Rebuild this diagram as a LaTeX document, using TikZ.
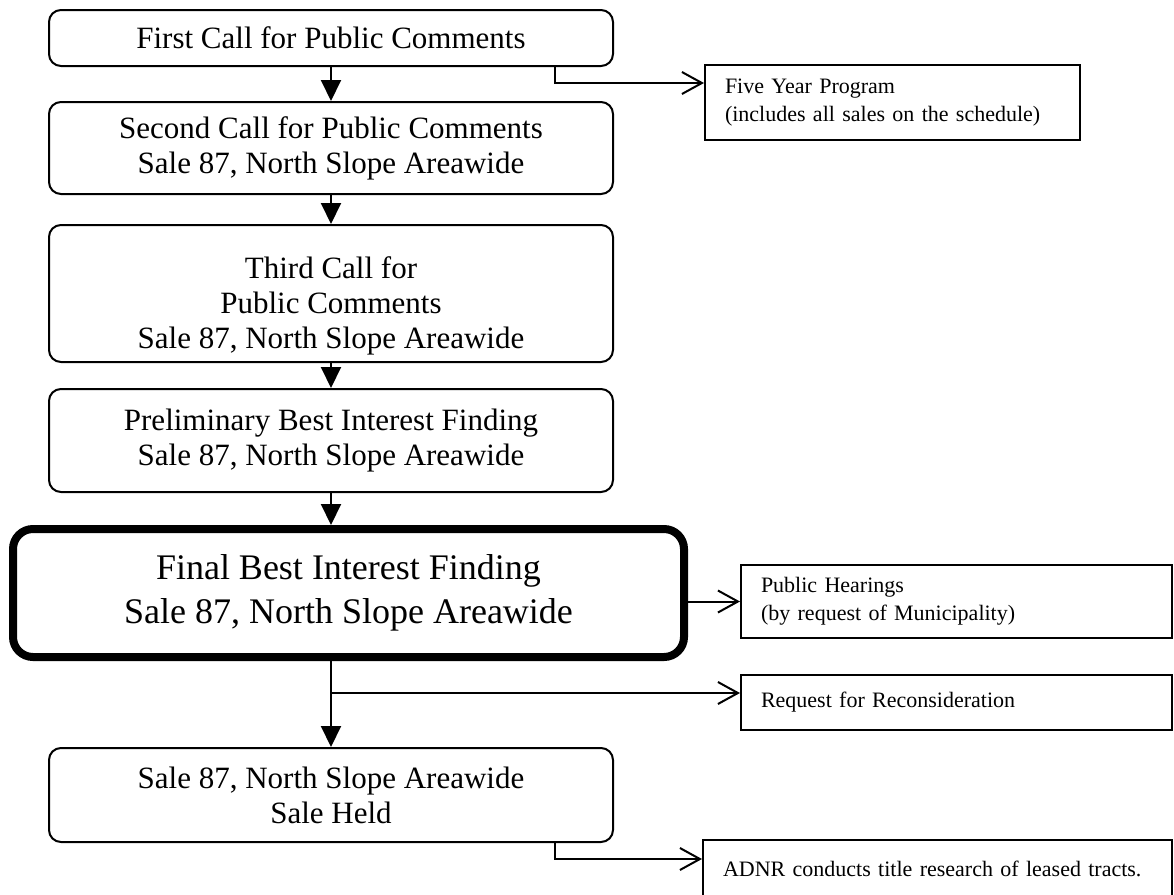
\documentclass[tikz,border=0pt]{standalone}
\usepackage{fontspec}
\setmainfont{Liberation Serif}
\usetikzlibrary{arrows.meta}
\begin{document}
\begin{tikzpicture}[x=1pt,y=-1pt,
  mainbox/.style={draw, line width=2pt, rounded corners=12pt, minimum width=564pt,
    align=center, inner sep=0pt, font=\fontsize{31}{35}\selectfont},
  finalbox/.style={draw, line width=8pt, rounded corners=20pt, minimum width=671pt,
    minimum height=128pt, align=center, inner sep=0pt, font=\fontsize{36}{44}\selectfont},
  sidebox/.style={draw, line width=2pt, inner xsep=20pt, inner ysep=0pt, align=left,
    font=\fontsize{22}{28}\selectfont},
  downarrow/.style={line width=2pt, -{Triangle[length=21pt,width=20pt]}},
  sidearrow/.style={line width=2pt, -{Straight Barb[length=20pt,width=22pt,line width=2pt]}}]
\useasboundingbox (0,0) rectangle (1174,894);

\node[mainbox, minimum height=56pt] (b1) at (331,38) {First Call for Public Comments};
\node[mainbox, minimum height=92pt] (b2) at (331,148) {Second Call for Public Comments\\Sale 87, North Slope Areawide};
\node[mainbox, minimum height=137pt] (b3) at (331,293.5) {\mbox{}\\[12pt]Third Call for\\Public Comments\\Sale 87, North Slope Areawide};
\node[mainbox, minimum height=103pt] (b4) at (331,440.5) {Preliminary Best Interest Finding\\Sale 87, North Slope Areawide};
\node[finalbox] (final) at (348.5,593) {Final Best Interest Finding\\Sale 87, North Slope Areawide};
\node[mainbox, minimum height=94pt] (b6) at (331,795) {Sale 87, North Slope Areawide\\Sale Held};

\node[sidebox, text width=335pt, minimum height=75pt] (five) at (892.5,102.5) {Five Year Program\\(includes all sales on the schedule)};
\node[sidebox, text width=391pt, minimum height=73pt] (ph) at (956.5,601.5) {Public Hearings\\(by request of Municipality)};
\node[sidebox, text width=391pt, minimum height=55pt] (req) at (956.5,702.5) {Request for Reconsideration};
\node[sidebox, text width=429pt, minimum height=58pt] (adnr) at (937.5,869) {ADNR conducts title research of leased tracts.};

\draw[downarrow] (b1.south) -- (b2.north);
\draw[downarrow] (b2.south) -- (b3.north);
\draw[downarrow] (b3.south) -- (b4.north);
\draw[downarrow] (b4.south) -- (b4.south |- final.north);
\draw[downarrow] (final.south -| b6.north) -- (b6.north);

\coordinate (k1) at (555,83);
\draw[sidearrow] (b1.south -| k1) |- (five.west |- k1);
\draw[sidearrow] (final.east |- ph.west) -- (ph.west);
\coordinate (k2) at (331,693);
\draw[sidearrow] (k2) -- (k2 -| req.west);
\coordinate (k3) at (555,859);
\draw[sidearrow] (b6.south -| k3) |- (adnr.west |- k3);
\end{tikzpicture}
\end{document}
